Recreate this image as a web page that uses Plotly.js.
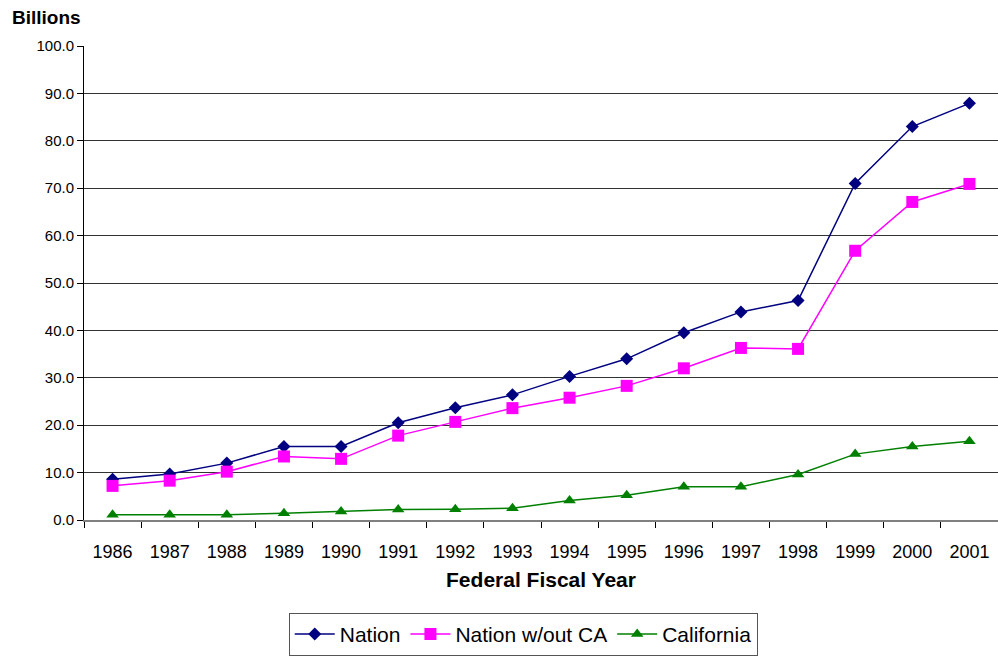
<!DOCTYPE html>
<html>
<head>
<meta charset="utf-8">
<script src="https://cdn.plot.ly/plotly-3.0.1.min.js"></script>
<style>html,body{margin:0;padding:0;background:#fff;}#chart{width:998px;height:656px;}</style>
</head>
<body>
<div id="chart"></div>
<script>
var years = ["1986","1987","1988","1989","1990","1991","1992","1993","1994","1995","1996","1997","1998","1999","2000","2001"];
var nation = [8.6, 9.7, 12.0, 15.5, 15.5, 20.5, 23.7, 26.4, 30.3, 34.0, 39.5, 43.9, 46.3, 71.0, 83.0, 87.9];
var nationWoCA = [7.2, 8.3, 10.2, 13.4, 12.9, 17.8, 20.7, 23.6, 25.8, 28.3, 32.0, 36.3, 36.1, 56.8, 67.1, 70.9];
var california = [1.1, 1.1, 1.1, 1.4, 1.8, 2.2, 2.25, 2.5, 4.1, 5.2, 7.0, 7.0, 9.6, 13.9, 15.5, 16.6];
var yTicks = [0,10,20,30,40,50,60,70,80,90,100];

var font = "Liberation Sans, Arial, sans-serif";
var traces = [
  {x: years, y: nation, name: "Nation", type: "scatter", mode: "lines+markers",
   line: {color: "#000080", width: 1.5}, marker: {symbol: "diamond", size: 10, color: "#000080"}},
  {x: years, y: nationWoCA, name: "Nation w/out CA", type: "scatter", mode: "lines+markers",
   line: {color: "#FF00FF", width: 1.5}, marker: {symbol: "square", size: 12, color: "#FF00FF"}},
  {x: years, y: california, name: "California", type: "scatter", mode: "lines+markers",
   line: {color: "#008000", width: 1.5}, marker: {symbol: "triangle-up", size: 11, color: "#008000"}}
];
var layout = {
  width: 998, height: 656,
  margin: {l: 84, r: 0, t: 46, b: 136},
  paper_bgcolor: "#fff", plot_bgcolor: "#fff",
  font: {family: font, color: "#000"},
  showlegend: true,
  title: {text: "<b>Billions</b>", x: 0.012, xanchor: "left", y: 0.973, yanchor: "middle", font: {size: 19, family: font}},
  xaxis: {type: "category", tickson: "boundaries", ticks: "outside", ticklen: 6, tickcolor: "#000",
    showgrid: false, showline: true, linecolor: "#808080", linewidth: 2, range: [-0.5, 15.5],
    tickfont: {size: 18, family: font}, ticklabelstandoff: 14,
    title: {text: "<b>Federal Fiscal Year</b>", font: {size: 21, family: font}, standoff: 12}},
  yaxis: {range: [0, 100], tickmode: "array", tickvals: yTicks, tickformat: ".1f",
    ticks: "outside", ticklen: 6, tickcolor: "#000", showgrid: true, gridcolor: "#333", gridwidth: 1,
    showline: true, linecolor: "#000", linewidth: 1, zeroline: false,
    tickfont: {size: 15, family: font}},
  legend: {orientation: "h", x: 0.224, xanchor: "left", y: -0.196, yanchor: "top",
    bordercolor: "#555", borderwidth: 1, font: {size: 21, family: font}, itemwidth: 40}
};
Plotly.newPlot("chart", traces, layout, {displayModeBar: false, staticPlot: true});
</script>
</body>
</html>
